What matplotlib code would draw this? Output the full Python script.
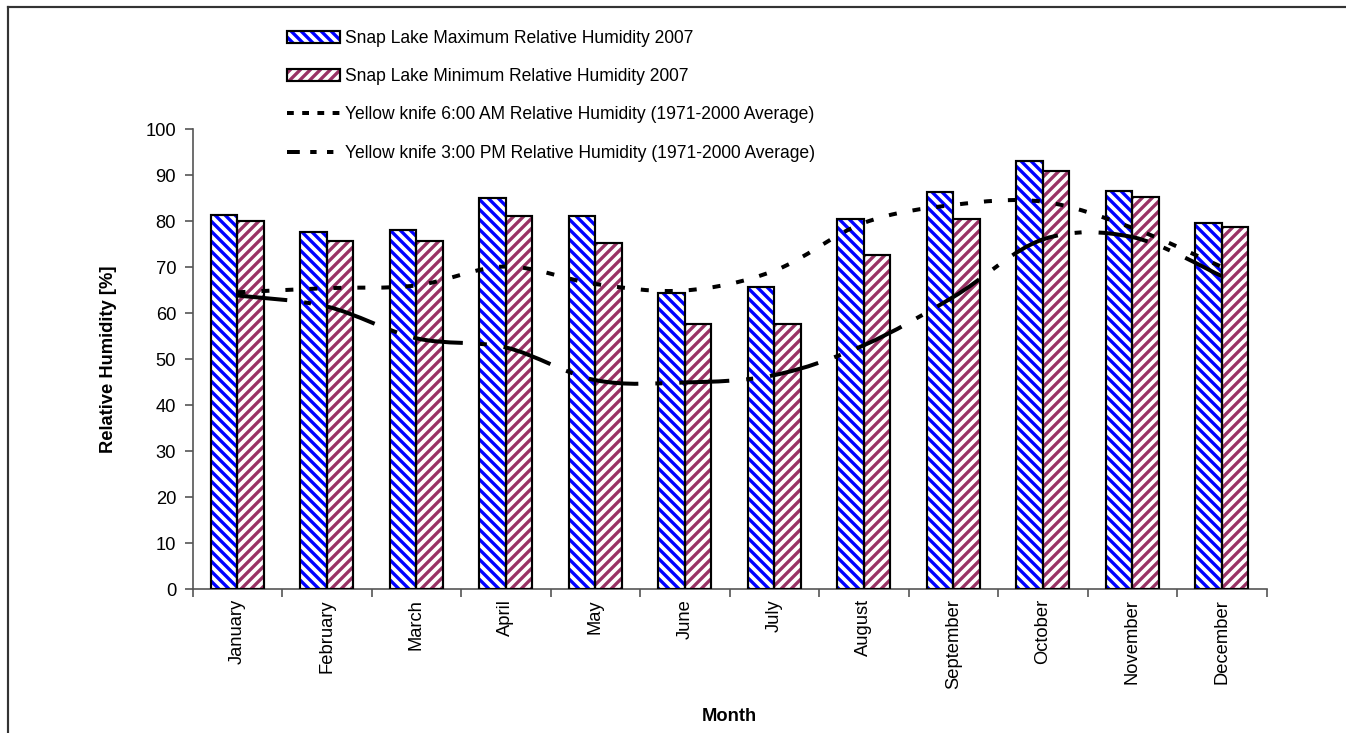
import matplotlib
matplotlib.use('Agg')
import matplotlib.pyplot as plt
import numpy as np
from matplotlib.path import Path
from matplotlib.patches import PathPatch, Patch
from matplotlib.lines import Line2D
from matplotlib.legend_handler import HandlerTuple

plt.rcParams['font.family'] = ['Liberation Sans', 'DejaVu Sans']
plt.rcParams['hatch.linewidth'] = 2.0

months = ['January', 'February', 'March', 'April', 'May', 'June',
          'July', 'August', 'September', 'October', 'November', 'December']
max_rh = [81.3, 77.5, 78.0, 85.0, 81.0, 64.4, 65.7, 80.4, 86.2, 93.1, 86.5, 79.6]
min_rh = [80.1, 75.7, 75.7, 81.0, 75.3, 57.5, 57.5, 72.6, 80.4, 90.9, 85.2, 78.7]
yk_6am = [64.5, 65.4, 66.0, 70.1, 66.3, 64.9, 69.2, 79.6, 83.5, 84.2, 78.5, 70.0]
yk_3pm = [63.8, 61.4, 54.5, 52.5, 45.4, 44.9, 46.5, 53.0, 63.5, 76.0, 76.5, 68.0]

lab_max = 'Snap Lake Maximum Relative Humidity 2007'
lab_min = 'Snap Lake Minimum Relative Humidity 2007'
lab_6am = 'Yellow knife 6:00 AM Relative Humidity (1971-2000 Average)'
lab_3pm = 'Yellow knife 3:00 PM Relative Humidity (1971-2000 Average)'

blue = '#0000FF'
maroon = '#993366'
# dash patterns (in linewidth units) for the plot and for the legend keys
dash_6am = (0, (2.0, 4.0))
dash_3pm = (0, (12.5, 4.25, 1.75, 4.25))
leg_6am = (0, (1.7, 2.1))
leg_3pm = (0, (3.2, 2.6, 1.6, 2.6, 1.6, 2.6))


def smooth_path(xs, ys):
    # excel-like smoothed line: catmull-rom segments as cubic beziers
    pts = np.column_stack([xs, ys]).astype(float)
    n = len(pts)
    verts = [pts[0]]
    codes = [Path.MOVETO]
    for i in range(n - 1):
        p0 = pts[i - 1] if i > 0 else pts[i]
        p1 = pts[i]
        p2 = pts[i + 1]
        p3 = pts[i + 2] if i + 2 < n else pts[i + 1]
        c1 = p1 + (p2 - p0) / 6.0
        c2 = p2 - (p3 - p1) / 6.0
        verts += [c1, c2, p2]
        codes += [Path.CURVE4] * 3
    return Path(verts, codes)


fig = plt.figure(figsize=(1346 / 120, 733 / 120), dpi=120)
ax = fig.add_axes([192.7 / 1346, 1 - 589 / 733, (1266.7 - 192.7) / 1346, (589 - 129) / 733])

x = np.arange(len(months))
w = 0.296
hmax = '\\\\\\\\'
hmin = '////'
ax.bar(x - w / 2, max_rh, w, color='white', edgecolor=blue, hatch=hmax, lw=0, zorder=2)
ax.bar(x - w / 2, max_rh, w, fill=False, edgecolor='black', lw=1.3, zorder=3)
ax.bar(x + w / 2, min_rh, w, color='white', edgecolor=maroon, hatch=hmin, lw=0, zorder=2)
ax.bar(x + w / 2, min_rh, w, fill=False, edgecolor='black', lw=1.3, zorder=3)

ax.add_patch(PathPatch(smooth_path(x, yk_6am), fill=False, edgecolor='black', lw=2.4,
                       linestyle=dash_6am, capstyle='butt', zorder=4))
ax.add_patch(PathPatch(smooth_path(x, yk_3pm), fill=False, edgecolor='black', lw=2.4,
                       linestyle=dash_3pm, capstyle='butt', zorder=4))

ax.set_xlim(-0.5, 11.5)
ax.set_ylim(0, 100)
ax.set_yticks(np.arange(0, 101, 10))
ax.set_xticks(np.arange(-0.5, 12, 1))
ax.set_xticklabels([])
ax.set_xticks(x, minor=True)
ax.set_xticklabels(months, minor=True, rotation=90, fontsize=11)
ax.tick_params(axis='x', which='minor', length=0, pad=6)
ax.tick_params(axis='x', which='major', length=5, width=1, color='#555555')
ax.tick_params(axis='y', length=5, width=1, color='#555555', labelsize=11, pad=5)
for s in ['top', 'right']:
    ax.spines[s].set_visible(False)
for s in ['left', 'bottom']:
    ax.spines[s].set_color('#555555')
    ax.spines[s].set_linewidth(1.0)

ax.set_ylabel('Relative Humidity [%]', fontsize=11, fontweight='bold', labelpad=17)
ax.set_xlabel('Month', fontsize=11, fontweight='bold', labelpad=11.5)

h_max = (Patch(facecolor='white', edgecolor=blue, hatch=hmax, lw=0),
         Patch(fill=False, edgecolor='black', lw=1.3))
h_min = (Patch(facecolor='white', edgecolor=maroon, hatch=hmin, lw=0),
         Patch(fill=False, edgecolor='black', lw=1.3))
h_6am = Line2D([], [], color='black', lw=2.4, linestyle=leg_6am, dash_capstyle='butt')
h_3pm = Line2D([], [], color='black', lw=2.4, linestyle=leg_3pm, dash_capstyle='butt')
fig.legend([h_max, h_min, h_6am, h_3pm], [lab_max, lab_min, lab_6am, lab_3pm],
           handler_map={tuple: HandlerTuple(ndivide=1, pad=0)},
           loc='upper left', bbox_to_anchor=(287 / 1346, 1 - 30 / 733),
           frameon=False, fontsize=10.5, handlelength=3.0, handleheight=0.65,
           handletextpad=0.34, labelspacing=1.21, borderaxespad=0, borderpad=0)

# outer frame (only left and top edges visible in the image)
fx = 8 / 1346
fy = 1 - 7 / 733
fig.add_artist(Line2D([fx, fx], [-0.1, fy], color='#333333', lw=1.3, transform=fig.transFigure))
fig.add_artist(Line2D([fx, 1.1], [fy, fy], color='#333333', lw=1.3, transform=fig.transFigure))

fig.savefig('out.png', dpi=120)
